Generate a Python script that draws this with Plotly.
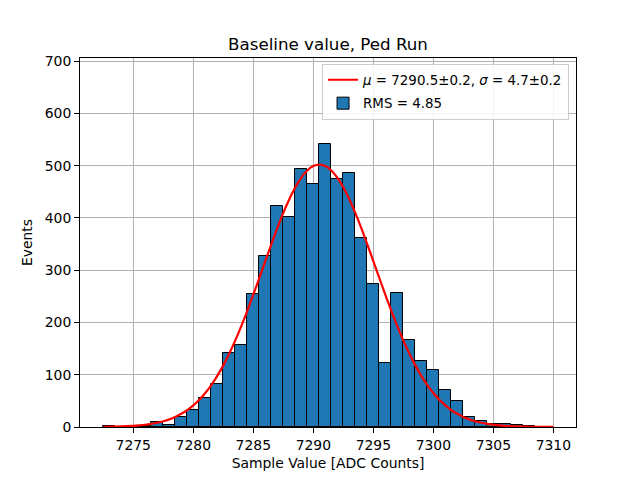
import plotly.graph_objects as go

# Histogram bins (centres, width 1 ADC count) and counts
bin_centers = list(range(7273, 7310))
counts = [1, 0, 1, 1, 9, 4, 20, 32, 55, 82,
          141, 156, 254, 327, 422, 401, 494, 464, 542, 474,
          485, 361, 273, 122, 256, 166, 127, 109, 71, 50,
          20, 12, 6, 5, 3, 1, 0]

# Fitted curve (x every 0.5 count)
curve_x = [7272.5 + 0.5 * i for i in range(76)]
curve_y = [0.33, 0.49, 0.72, 1.06, 1.53, 2.18, 3.08, 4.31, 5.94, 8.11,
           10.95, 14.6, 19.3, 25.2, 32.4, 41.4, 52.2, 65.1, 80.3, 97.8,
           117.9, 140.6, 165.6, 192.9, 222.2, 253.1, 285.1, 317.4, 349.5, 380.4,
           409.5, 435.8, 458.5, 477.1, 490.8, 499.2, 502.0, 499.2, 490.8, 477.1,
           458.5, 435.8, 409.5, 380.4, 349.5, 317.4, 285.1, 253.1, 222.2, 192.9,
           165.6, 140.6, 117.9, 97.8, 80.3, 65.1, 52.2, 41.4, 32.4, 25.2,
           19.3, 14.6, 10.95, 8.11, 5.94, 4.31, 3.08, 2.18, 1.53, 1.06,
           0.72, 0.49, 0.33, 0.22, 0.14, 0.09]

x_ticks = [7275, 7280, 7285, 7290, 7295, 7300, 7305, 7310]
y_ticks = [0, 100, 200, 300, 400, 500, 600, 700]

title = "Baseline value, Ped Run"
x_label = "Sample Value [ADC Counts]"
y_label = "Events"
fit_label = "<i>μ</i> = 7290.5±0.2, <i>σ</i> = 4.7±0.2"
hist_label = "RMS = 4.85"

font = "DejaVu Sans"

# page body has an 8px margin; size the figure so the plot lands where the reference has it
W, H = 632, 472

fig = go.Figure()
fig.add_trace(go.Bar(
    x=bin_centers, y=counts, width=1, name=hist_label,
    legendgroup="h", legendrank=2,
    marker=dict(color="#1f77b4", line=dict(color="black", width=1)),
))
fig.add_trace(go.Scatter(
    x=curve_x, y=curve_y, mode="lines", name=fit_label,
    legendgroup="f", legendrank=1,
    line=dict(color="red", width=2.2, shape="spline"),
))

fig.update_layout(
    width=W, height=H,
    margin=dict(l=72, r=64, t=50, b=53, pad=0),
    paper_bgcolor="white", plot_bgcolor="white",
    font=dict(family=font, size=13.9, color="black"),
    title=dict(text=title, x=0.5, xanchor="center", xref="paper",
               y=1 - 36 / H, yanchor="middle",
               font=dict(size=16.7, family=font, color="black")),
    bargap=0,
    showlegend=True,
    legend=dict(
        x=0.986, y=0.985, xanchor="right", yanchor="top",
        bgcolor="rgba(255,255,255,0.85)", bordercolor="#cccccc", borderwidth=1,
        font=dict(size=13.4, family=font, color="black"),
        traceorder="grouped", tracegroupgap=3, itemwidth=30,
    ),
)
fig.update_xaxes(
    range=[7270.56, 7311.89], tickvals=x_ticks,
    ticks="outside", ticklen=5, tickwidth=1, tickcolor="black",
    showline=True, linecolor="black", linewidth=1, mirror=True,
    showgrid=True, gridcolor="#b0b0b0", gridwidth=0.8,
    zeroline=False, layer="above traces",
    title=dict(text=x_label, font=dict(size=13.9, family=font), standoff=6),
)
fig.update_yaxes(
    range=[0, 705.9], tickvals=y_ticks,
    ticks="outside", ticklen=5, tickwidth=1, tickcolor="black",
    showline=True, linecolor="black", linewidth=1, mirror=True,
    showgrid=True, gridcolor="#b0b0b0", gridwidth=0.8,
    zeroline=False, layer="above traces",
    title=dict(text=y_label, font=dict(size=13.9, family=font), standoff=8),
)

fig.write_html("out.html")
